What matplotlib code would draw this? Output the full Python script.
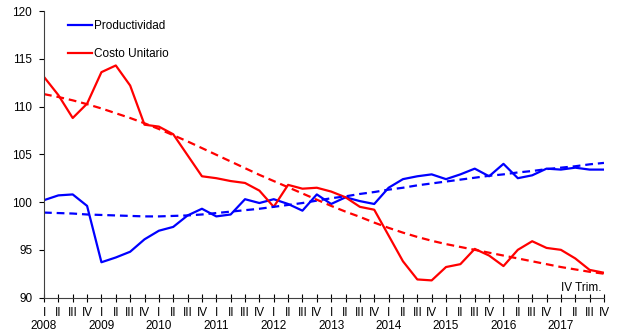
import numpy as np
import matplotlib.pyplot as plt
import matplotlib.transforms as mtransforms

plt.rcParams['font.family'] = ['Liberation Sans', 'DejaVu Sans']

years = [str(y) for y in range(2008, 2018)]
quarters = ["I", "II", "III", "IV"]

productividad = [100.2, 100.7, 100.8, 99.6, 93.7, 94.2, 94.8, 96.1, 97.0, 97.4,
                 98.6, 99.3, 98.5, 98.7, 100.3, 99.9, 100.3, 99.8, 99.1, 100.8,
                 99.8, 100.5, 100.1, 99.8, 101.5, 102.4, 102.7, 102.9, 102.4, 102.9,
                 103.5, 102.7, 104.0, 102.5, 102.8, 103.5, 103.4, 103.6, 103.4, 103.4]
costo_unitario = [113.1, 111.2, 108.8, 110.3, 113.6, 114.3, 112.2, 108.1, 107.9, 107.1,
                  104.9, 102.7, 102.5, 102.2, 102.0, 101.2, 99.5, 101.8, 101.4, 101.5,
                  101.1, 100.5, 99.5, 99.2, 96.5, 93.8, 91.9, 91.8, 93.2, 93.5,
                  95.1, 94.4, 93.3, 95.0, 95.9, 95.2, 95.0, 94.1, 92.9, 92.6]

# trend lines
tend_productividad = [98.9, 98.85, 98.8, 98.7, 98.65, 98.6, 98.55, 98.5, 98.5, 98.55,
                      98.6, 98.7, 98.85, 99.0, 99.15, 99.3, 99.5, 99.7, 99.9, 100.15,
                      100.4, 100.6, 100.85, 101.05, 101.3, 101.5, 101.75, 101.95, 102.15, 102.35,
                      102.55, 102.75, 102.9, 103.1, 103.25, 103.45, 103.6, 103.75, 103.95, 104.1]
tend_costo = [111.3, 111.0, 110.65, 110.25, 109.8, 109.3, 108.8, 108.25, 107.65, 107.0,
              106.35, 105.65, 104.95, 104.25, 103.55, 102.85, 102.2, 101.55, 100.9, 100.25,
              99.6, 99.0, 98.45, 97.85, 97.3, 96.8, 96.35, 95.95, 95.6, 95.3,
              95.0, 94.7, 94.4, 94.1, 93.8, 93.5, 93.2, 92.95, 92.7, 92.5]

x = np.arange(len(productividad))
labels = quarters * len(years)

fig = plt.figure(figsize=(6.18, 3.34), dpi=100)
ax = fig.add_axes([0.0712, 0.109, 0.9061, 0.858])

ax.plot(x, productividad, color="#0000ff", lw=1.6, label="Productividad")
ax.plot(x, costo_unitario, color="#ff0000", lw=1.6, label="Costo Unitario")
ax.plot(x, tend_productividad, color="#0000ff", lw=1.6, ls=(0, (3.5, 2.2)))
ax.plot(x, tend_costo, color="#ff0000", lw=1.6, ls=(0, (3.5, 2.2)))

ax.set_xlim(0, 39)
ax.set_ylim(90, 120)
ax.set_yticks(range(90, 121, 5))
ax.set_xticks(x)
ax.set_xticklabels(labels, fontsize=8.5)
ax.tick_params(axis="y", labelsize=8.5, direction="out", length=3.5, pad=5)
ax.tick_params(axis="x", direction="inout", length=6, pad=4)
for side in ["top", "right"]:
    ax.spines[side].set_visible(False)
ax.spines["left"].set_color("#404040")
ax.spines["bottom"].set_color("#404040")

# year under each first quarter
trans = mtransforms.blended_transform_factory(ax.transData, ax.transAxes)
for i, y in enumerate(years):
    ax.text(x[i * 4], -0.078, y, transform=trans, ha="center", va="top", fontsize=8.5)

ax.text(0.995, 0.012, "IV Trim.", transform=ax.transAxes, ha="right", va="bottom", fontsize=8.5)

ax.legend(loc="upper left", bbox_to_anchor=(0.033, 0.989), frameon=False, fontsize=8.5,
          handlelength=2.0, handletextpad=0.2, labelspacing=1.35, borderpad=0)

plt.savefig("out.png", dpi=100)
